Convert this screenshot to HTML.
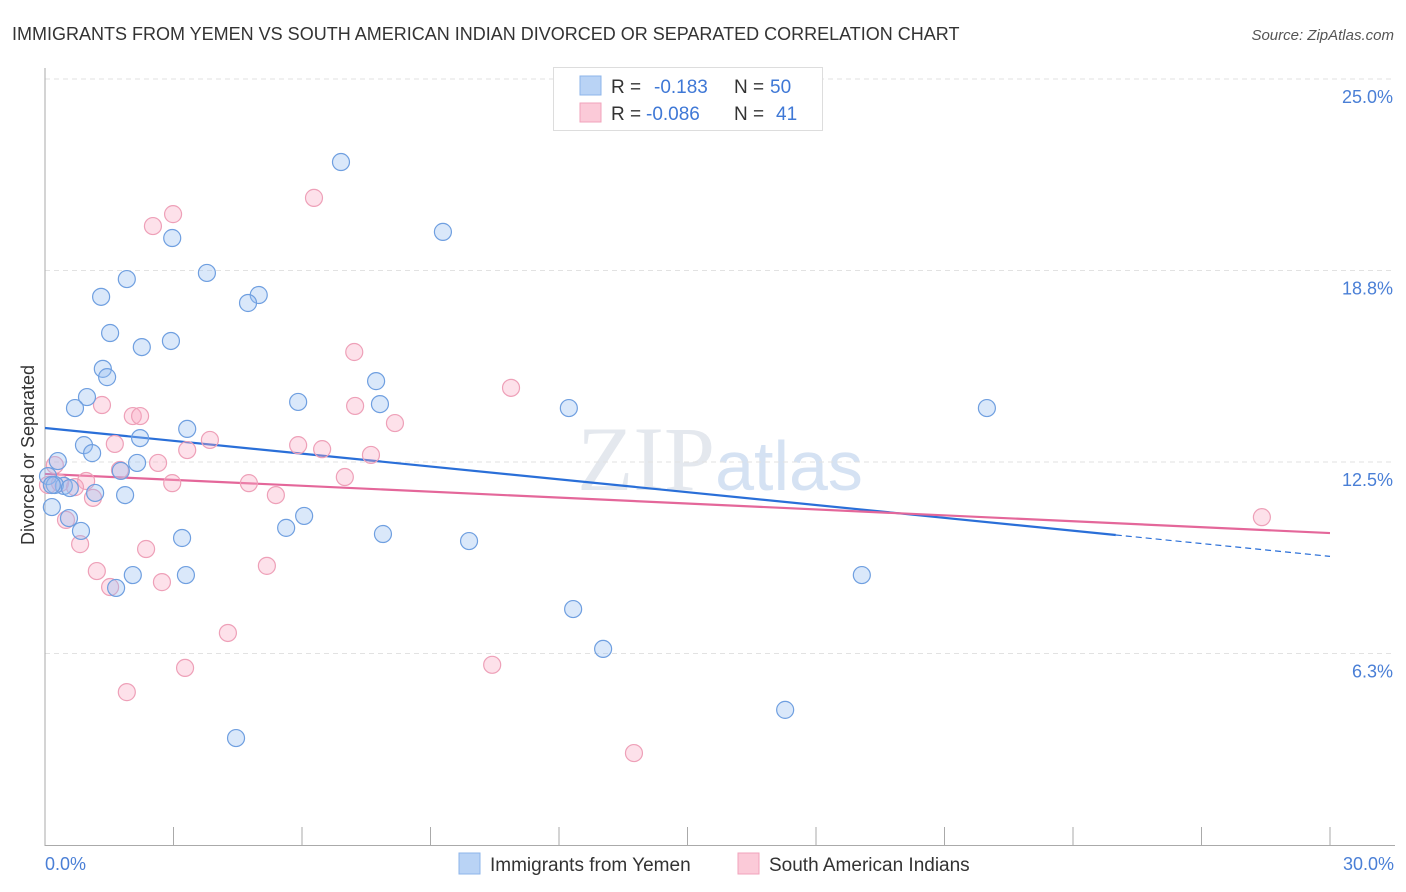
<!DOCTYPE html>
<html><head><meta charset="utf-8"><style>
body{margin:0;background:#fff;font-family:"Liberation Sans",sans-serif;}
svg{display:block}
</style></head><body>
<svg id="c" width="1406" height="892" xmlns="http://www.w3.org/2000/svg" font-family="Liberation Sans, sans-serif">
<text x="12" y="40" font-size="18" fill="#333">IMMIGRANTS FROM YEMEN VS SOUTH AMERICAN INDIAN DIVORCED OR SEPARATED CORRELATION CHART</text>
<text x="1394" y="40" font-size="15" fill="#555" text-anchor="end" font-style="italic">Source: ZipAtlas.com</text>
<text x="720" y="490" font-size="92" fill="#e4e8ee" text-anchor="middle" font-family="Liberation Serif, serif">ZIP<tspan font-family="Liberation Sans, sans-serif" font-size="70" fill="#d5e2f3">atlas</tspan></text>
<g id="grid"></g>
<g id="axes"></g>
<g id="lines"></g>
<g id="pts"></g>
<text transform="translate(34,455) rotate(-90)" font-size="18" fill="#333" text-anchor="middle">Divorced or Separated</text>
<text x="45" y="870" font-size="18" fill="#4a7fd6">0.0%</text>
<text x="1394" y="870" font-size="18" fill="#4a7fd6" text-anchor="end">30.0%</text>
<g>
<rect x="553.5" y="67.5" width="269" height="63" fill="#fff" stroke="#ddd"/>
<rect x="580" y="76" width="21" height="19" fill="#b9d3f5" stroke="#8db4ea"/>
<rect x="580" y="103" width="21" height="19" fill="#fbcad8" stroke="#f2a3bb"/>
<text x="611" y="93" font-size="19" fill="#333">R = </text>
<text x="654" y="93" font-size="19" fill="#3f78d6">-0.183</text>
<text x="734" y="93" font-size="19" fill="#333">N = </text>
<text x="770" y="93" font-size="19" fill="#3f78d6">50</text>
<text x="611" y="120" font-size="19" fill="#333">R = </text>
<text x="646" y="120" font-size="19" fill="#3f78d6">-0.086</text>
<text x="734" y="120" font-size="19" fill="#333">N = </text>
<text x="776" y="120" font-size="19" fill="#3f78d6">41</text>
</g>
<g>
<rect x="459" y="853" width="21" height="21" fill="#b9d3f5" stroke="#8db4ea"/>
<text x="490" y="871" font-size="19" fill="#333">Immigrants from Yemen</text>
</g>
<g>
<rect x="738" y="853" width="21" height="21" fill="#fbcad8" stroke="#f2a3bb"/>
<text x="769" y="871" font-size="19" fill="#333">South American Indians</text>
</g>
</svg>
<script>
const yTicks=[25,18.75,12.5,6.25];
const yTickLabels=["25.0%","18.8%","12.5%","6.3%"];
const xTicks=[0,3,6,9,12,15,18,21,24,27,30];
const blueX=[6.91,2.97,9.29,1.91,3.78,1.31,4.99,4.74,1.52,2.26,2.94,1.35,1.45,0.98,7.73,0.70,5.91,7.82,12.23,21.99,3.32,2.22,0.91,1.10,0.30,2.15,1.77,0.07,0.44,0.23,0.58,1.17,1.87,0.16,0.56,0.84,6.05,5.63,7.89,3.20,9.90,2.05,3.29,19.07,1.66,12.33,13.03,17.28,4.46,0.16];
const blueY=[22.29,19.81,20.01,18.47,18.67,17.89,17.95,17.69,16.71,16.25,16.45,15.54,15.27,14.62,15.14,14.26,14.46,14.39,14.26,14.26,13.58,13.28,13.05,12.79,12.53,12.47,12.21,12.04,11.72,11.75,11.65,11.49,11.42,11.03,10.67,10.25,10.74,10.35,10.15,10.02,9.92,8.81,8.81,8.81,8.39,7.70,6.40,4.41,3.49,11.75];
const pinkX=[6.28,2.99,2.52,7.22,10.88,7.24,1.33,2.05,2.22,8.17,3.85,1.63,5.91,6.47,3.32,7.61,0.23,7.00,1.75,0.96,2.97,4.76,0.07,0.70,0.35,5.39,1.12,0.49,28.41,0.82,2.36,2.64,1.21,5.18,2.73,1.52,4.27,3.27,10.44,1.91,13.75];
const pinkY=[21.12,20.59,20.20,16.09,14.92,14.33,14.36,14.00,14.00,13.77,13.22,13.09,13.05,12.92,12.89,12.73,12.40,12.01,12.24,11.88,11.81,11.81,11.75,11.68,11.81,11.42,11.33,10.61,10.70,9.82,9.66,12.47,8.94,9.11,8.58,8.42,6.92,5.78,5.88,4.99,3.00];
const blueTrend=[13.61,9.42];
const pinkTrend=[12.11,10.18];
const NS="http://www.w3.org/2000/svg";
const X=v=>45+v*42.833, Y=v=>845-v*30.64;
function mk(tag,attrs,parent){const e=document.createElementNS(NS,tag);for(const k in attrs)e.setAttribute(k,attrs[k]);document.getElementById(parent).appendChild(e);return e;}
yTicks.forEach((t,i)=>{
 const g=mk('line',{x1:45,x2:1395,y1:Y(t),y2:Y(t),stroke:'#e2e2e2','stroke-dasharray':'5,4'},'grid');
 
 
 const l=mk('text',{x:1393,y:Y(t)+24,'font-size':18,fill:'#4a7fd6','text-anchor':'end'},'grid');
 l.textContent=yTickLabels[i];
 
 
});
const ya=mk('line',{x1:45,x2:45,y1:68,y2:846,stroke:'#aaa'},'axes');


const xa=mk('line',{x1:45,x2:1395,y1:845.5,y2:845.5,stroke:'#aaa'},'axes');


xTicks.forEach(t=>{
 const k=mk('line',{x1:X(t),x2:X(t),y1:827,y2:845,stroke:'#aaa'},'axes');
 
 
});
function pt(x,y,fill,stroke,name){
 const c=mk('circle',{cx:X(x),cy:Y(y),r:8.5,fill:fill,stroke:stroke,'stroke-width':1.2},'pts');
 
 
}
pinkX.forEach((x,i)=>pt(x,pinkY[i],'rgba(248,170,195,0.35)','#eea0b8','point-south-american-indian'));
blueX.forEach((x,i)=>pt(x,blueY[i],'rgba(150,190,240,0.35)','#6f9fe0','point-yemen'));
const bAt=v=>blueTrend[0]+(blueTrend[1]-blueTrend[0])*v/30;
const b1=mk('line',{x1:X(0),y1:Y(bAt(0)),x2:X(25),y2:Y(bAt(25)),stroke:'#2a6fd8','stroke-width':2.2},'lines');


const b2=mk('line',{x1:X(25),y1:Y(bAt(25)),x2:X(30),y2:Y(bAt(30)),stroke:'#2a6fd8','stroke-width':1.2,'stroke-dasharray':'6,4'},'lines');


const p1=mk('line',{x1:X(0),y1:Y(pinkTrend[0]),x2:X(30),y2:Y(pinkTrend[1]),stroke:'#e4679a','stroke-width':2.2},'lines');


</script>
</body></html>
